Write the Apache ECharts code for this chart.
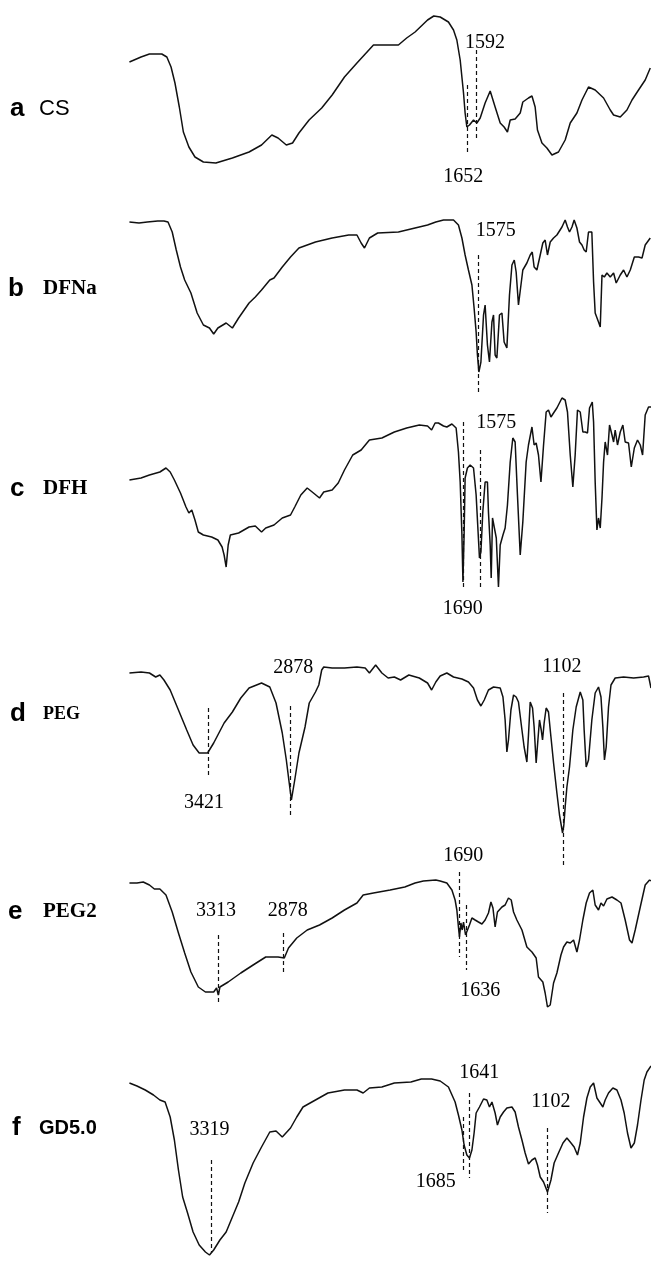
<!DOCTYPE html>
<html>
<head>
<meta charset="utf-8">
<title>FTIR spectra</title>
<script src="https://cdn.jsdelivr.net/npm/echarts@6/dist/echarts.min.js"></script>
<style>
    html, body { margin: 0; padding: 0; background: #fff; }
    #chart { width: 651px; height: 1262px; }
</style>
</head>
<body>
<div id="chart"></div>
<script>
// spectra, [wavenumber cm-1, transmittance a.u.]
const CS = [[3997,138],[3917,143],[3859,146],[3774,146],[3739,143],[3710,133],[3683,117],[3653,93],[3625,68],[3587,53],[3545,43],[3487,38],[3401,37],[3287,42],[3172,48],[3086,55],[3015,65],[2972,62],[2915,55],[2872,57],[2828,67],[2758,80],[2671,92],[2599,105],[2514,123],[2428,137],[2314,155],[2242,155],[2142,155],[2085,162],[2027,168],[1941,180],[1898,184],[1854,183],[1797,178],[1762,170],[1739,160],[1716,140],[1693,107],[1682,87],[1670,73],[1652,75],[1624,80],[1601,77],[1578,82],[1544,97],[1509,109],[1475,93],[1440,77],[1413,73],[1390,68],[1371,80],[1337,81],[1302,87],[1284,98],[1245,102],[1221,104],[1199,93],[1183,70],[1152,57],[1118,52],[1083,45],[1038,48],[992,60],[957,77],[911,87],[876,100],[831,113],[785,110],[727,102],[681,90],[658,85],[612,83],[566,90],[531,100],[486,110],[440,120],[405,132]];

const DFNa = [[3997,178],[3931,177],[3874,178],[3802,179],[3759,179],[3731,178],[3702,168],[3674,150],[3645,133],[3616,120],[3573,107],[3530,87],[3487,75],[3445,72],[3416,66],[3387,72],[3330,77],[3287,72],[3244,82],[3172,97],[3129,103],[3086,110],[3029,120],[3000,122],[2943,133],[2886,143],[2828,152],[2714,158],[2599,162],[2485,165],[2428,165],[2399,157],[2376,152],[2342,162],[2285,167],[2142,168],[2027,172],[1941,175],[1884,178],[1831,180],[1762,180],[1728,175],[1704,162],[1682,145],[1659,130],[1635,115],[1620,92],[1606,68],[1597,45],[1587,28],[1573,38],[1555,85],[1544,95],[1528,55],[1514,38],[1497,78],[1486,85],[1475,45],[1463,42],[1445,85],[1428,87],[1413,58],[1394,52],[1376,105],[1359,135],[1343,140],[1330,128],[1314,95],[1302,93],[1284,130],[1256,137],[1233,145],[1219,148],[1206,133],[1187,130],[1164,145],[1146,157],[1130,160],[1114,145],[1095,158],[1072,162],[1049,165],[1014,173],[992,180],[976,173],[962,168],[945,173],[930,180],[911,172],[893,158],[876,155],[861,150],[847,148],[831,168],[808,168],[796,118],[785,87],[762,78],[750,73],[738,125],[722,123],[704,127],[681,123],[658,127],[640,117],[612,125],[589,130],[566,123],[543,130],[515,143],[486,143],[462,142],[440,155],[405,162]];

const DFH = [[3997,140],[3917,142],[3859,145],[3787,148],[3745,152],[3716,148],[3687,140],[3645,127],[3607,113],[3587,107],[3567,110],[3545,100],[3522,88],[3487,85],[3430,83],[3387,80],[3358,73],[3344,65],[3330,53],[3316,75],[3301,85],[3244,87],[3172,93],[3129,94],[3086,88],[3057,92],[3000,95],[2943,102],[2886,105],[2857,113],[2815,125],[2771,132],[2728,127],[2686,122],[2657,128],[2599,130],[2557,137],[2514,150],[2457,165],[2399,170],[2342,180],[2256,182],[2170,188],[2085,192],[1998,195],[1941,194],[1913,190],[1889,197],[1866,197],[1831,194],[1808,193],[1773,196],[1744,192],[1728,168],[1716,138],[1704,85],[1697,38],[1689,85],[1682,142],[1666,152],[1647,155],[1624,152],[1606,125],[1594,92],[1583,62],[1573,68],[1560,108],[1544,138],[1528,138],[1521,108],[1509,75],[1502,42],[1493,102],[1481,103],[1467,82],[1452,33],[1440,75],[1421,85],[1406,92],[1390,115],[1371,158],[1353,182],[1337,178],[1321,125],[1302,65],[1284,98],[1261,158],[1245,175],[1221,193],[1206,175],[1192,177],[1176,165],[1159,138],[1141,175],[1123,208],[1107,210],[1090,203],[1072,207],[1049,212],[1014,222],[992,220],[976,208],[957,165],[939,133],[923,165],[907,210],[888,208],[870,188],[854,188],[838,187],[824,212],[805,218],[796,198],[785,138],[773,90],[762,102],[750,92],[738,122],[727,158],[716,178],[700,165],[686,195],[669,185],[658,178],[647,190],[631,175],[612,188],[594,195],[578,178],[555,177],[536,153],[515,172],[493,180],[474,175],[458,165],[440,205],[417,213],[400,213]];

const PEG = [[3997,197],[3917,198],[3859,197],[3816,193],[3787,195],[3759,190],[3716,180],[3659,160],[3602,140],[3558,125],[3516,117],[3458,117],[3416,127],[3344,147],[3287,158],[3229,172],[3172,182],[3086,187],[3029,183],[2986,167],[2943,137],[2915,110],[2895,87],[2880,70],[2857,90],[2828,117],[2786,143],[2757,167],[2714,178],[2691,185],[2671,200],[2657,203],[2599,202],[2514,202],[2428,203],[2371,202],[2342,197],[2299,205],[2256,197],[2213,192],[2170,193],[2127,190],[2070,195],[1998,192],[1941,187],[1913,180],[1884,188],[1854,194],[1808,197],[1762,193],[1704,191],[1659,188],[1624,182],[1597,170],[1573,164],[1550,170],[1521,180],[1486,183],[1440,182],[1421,173],[1406,150],[1394,118],[1383,130],[1366,160],[1348,175],[1330,173],[1314,168],[1302,167],[1290,140],[1275,123],[1256,108],[1245,135],[1233,168],[1217,162],[1206,143],[1192,107],[1180,130],[1169,150],[1157,140],[1148,130],[1137,147],[1123,162],[1107,158],[1090,133],[1072,107],[1049,77],[1031,55],[1010,37],[1001,45],[992,63],[980,83],[962,103],[939,140],[916,163],[888,178],[870,170],[861,140],[847,103],[831,110],[808,150],[785,177],[762,183],[745,173],[732,143],[721,110],[709,123],[693,163],[676,185],[647,192],[589,193],[520,192],[451,193],[417,194],[400,182]];

const PEG2 = [[3997,157],[3945,157],[3902,158],[3859,155],[3825,151],[3787,151],[3745,145],[3702,128],[3659,107],[3616,87],[3573,68],[3522,53],[3473,48],[3416,48],[3396,52],[3384,45],[3373,53],[3316,58],[3229,67],[3144,75],[3057,83],[2972,83],[2929,82],[2900,92],[2843,102],[2771,110],[2686,115],[2599,122],[2514,130],[2428,137],[2385,145],[2314,147],[2199,150],[2098,153],[2027,157],[1970,159],[1884,160],[1854,159],[1808,157],[1773,150],[1751,140],[1739,130],[1728,113],[1721,103],[1711,117],[1702,110],[1693,118],[1679,105],[1666,103],[1652,115],[1635,122],[1613,120],[1590,118],[1566,116],[1544,120],[1521,127],[1504,138],[1490,132],[1475,113],[1459,128],[1428,133],[1406,135],[1383,142],[1364,140],[1348,128],[1325,120],[1290,110],[1256,93],[1221,88],[1192,82],[1176,63],[1146,58],[1130,47],[1114,33],[1095,35],[1072,57],[1049,67],[1021,85],[1003,93],[980,98],[957,97],[934,100],[911,88],[893,100],[870,120],[847,137],[824,147],[801,150],[785,135],[762,130],[745,137],[727,134],[704,141],[669,143],[635,140],[607,137],[578,120],[548,100],[531,97],[509,110],[474,133],[440,155],[410,160],[400,159]];

const GD50 = [[3997,179],[3945,176],[3888,172],[3831,167],[3787,162],[3751,160],[3716,145],[3687,122],[3659,92],[3630,65],[3596,49],[3558,30],[3516,17],[3473,10],[3445,7],[3416,12],[3373,22],[3330,30],[3287,45],[3244,60],[3201,79],[3144,99],[3086,115],[3029,130],[2986,131],[2943,125],[2886,134],[2843,145],[2800,155],[2714,162],[2628,169],[2514,172],[2428,172],[2385,169],[2342,174],[2256,175],[2170,179],[2056,180],[1984,183],[1913,183],[1854,181],[1797,175],[1751,160],[1728,147],[1704,132],[1689,117],[1670,107],[1652,104],[1635,112],[1620,129],[1606,149],[1583,155],[1555,163],[1532,162],[1514,155],[1497,160],[1475,149],[1459,137],[1440,145],[1417,150],[1394,154],[1359,155],[1337,150],[1314,135],[1290,122],[1268,109],[1245,98],[1221,102],[1199,104],[1183,97],[1164,85],[1141,80],[1114,70],[1090,82],[1068,99],[1038,109],[1007,119],[980,124],[957,120],[930,115],[907,107],[888,119],[865,145],[842,164],[819,175],[796,179],[773,164],[750,159],[732,155],[716,162],[693,169],[663,174],[635,172],[607,162],[585,149],[562,129],[538,114],[515,119],[493,137],[469,162],[447,182],[428,190],[400,196]];

const letters = ['a', 'b', 'c', 'd', 'e', 'f'];
const samples = ['CS', 'DFNa', 'DFH', 'PEG', 'PEG2', 'GD5.0'];
const spectra = [CS, DFNa, DFH, PEG, PEG2, GD50];

// dashed peak markers, [wavenumber, from, to]
const csPeaks = [[1666,115,45],[1606,150,60]];
const dfnaPeaks = [[1590,145,8]];
const dfhPeaks = [[1697,198,32],[1578,170,32]];
const pegPeaks = [[3453,162,93],[2886,164,55],[1005,177,5]];
const peg2Peaks = [[3387,105,37],[2935,107,65],[1721,168,83],[1675,135,70]];
const gdPeaks = [[3430,102,9],[1652,169,84],[1693,145,89],[1114,134,49]];
const peaks = [csPeaks, dfnaPeaks, dfhPeaks, pegPeaks, peg2Peaks, gdPeaks];

// peak labels, [text, wavenumber, y]
const csLabels = [['1592',1544,157],['1652',1695,23]];
const dfnaLabels = [['1575',1471,169]];
const dfhLabels = [['1575',1468,197],['1690',1699,11]];
const pegLabels = [['3421',3483,67],['2878',2868,202],['1102',1014,203]];
const peg2Labels = [['3313',3400,129],['2878',2906,129],['1690',1695,184],['1636',1578,49]];
const gdLabels = [['3319',3445,132],['1641',1585,189],['1102',1090,160],['1685',1885,80]];
const peakLabels = [csLabels, dfnaLabels, dfhLabels, pegLabels, peg2Labels, gdLabels];

// layout
const panels = [
    {top: 0, height: 200}, {top: 200, height: 200}, {top: 400, height: 220},
    {top: 620, height: 250}, {top: 840, height: 200}, {top: 1040, height: 222}
];
const nameY = [109, 289, 489, 714, 912, 1128];
const letterX = [10, 8, 10, 10, 8, 12];
const nameX = [39, 43, 43, 43, 43, 39];
const nameFont = [
    '22px "Liberation Sans"', 'bold 21px "Liberation Serif"', 'bold 21px "Liberation Serif"',
    'bold 18px "Liberation Serif"', 'bold 21px "Liberation Serif"', 'bold 20px "Liberation Sans"'
];

const chart = echarts.init(document.getElementById('chart'));

let grid = [], xAxis = [], yAxis = [], series = [], graphic = [];
panels.forEach((p, i) => {
    grid.push({left: 129, right: 0, top: p.top, height: p.height});
    xAxis.push({type: 'value', gridIndex: i, min: 400, max: 4000, inverse: true, show: false});
    yAxis.push({type: 'value', gridIndex: i, min: 0, max: p.height, show: false});
    series.push({
        type: 'line', xAxisIndex: i, yAxisIndex: i,
        data: spectra[i],
        symbol: 'none', clip: false, silent: true,
        lineStyle: {color: '#111', width: 1.5},
        markLine: {
            silent: true,
            symbol: ['none', 'none'],
            label: {show: false},
            lineStyle: {type: [4, 3], color: '#111', width: 1.2, opacity: 1},
            data: peaks[i].map(k => [{coord: [k[0], k[1]]}, {coord: [k[0], k[2]]}])
        }
    });
    series.push({
        type: 'scatter', xAxisIndex: i, yAxisIndex: i,
        data: peakLabels[i].map(l => ({name: l[0], value: [l[1], l[2]]})),
        symbolSize: 1, silent: true,
        itemStyle: {color: 'rgba(255,255,255,0)', opacity: 1},
        label: {
            show: true, position: 'inside', formatter: '{b}', opacity: 1,
            color: '#000', fontFamily: '"Liberation Serif"', fontSize: 20
        }
    });
    graphic.push({
        type: 'text', x: letterX[i], y: nameY[i],
        style: {text: letters[i], font: 'bold 26px "Liberation Sans"', fill: '#000', verticalAlign: 'middle'}
    });
    graphic.push({
        type: 'text', x: nameX[i], y: nameY[i],
        style: {text: samples[i], font: nameFont[i], fill: '#000', verticalAlign: 'middle'}
    });
});

chart.setOption({
    animation: false,
    backgroundColor: '#fff',
    grid: grid,
    xAxis: xAxis,
    yAxis: yAxis,
    series: series,
    graphic: graphic
});
</script>
</body>
</html>
